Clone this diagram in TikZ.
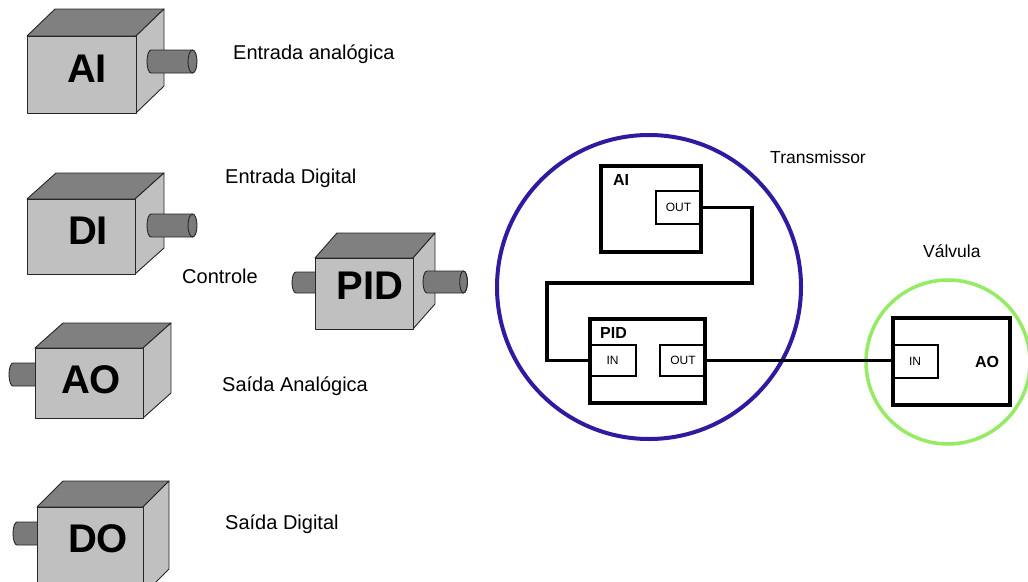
\documentclass[tikz,border=0pt]{standalone}
\usepackage{fontspec}
\setmainfont{Liberation Sans}

\definecolor{cubelight}{HTML}{C0C0C0}
\definecolor{cubedark}{HTML}{808080}
\definecolor{shaftgray}{HTML}{7A7A7A}
\definecolor{ringblue}{RGB}{45,28,160}
\definecolor{ringgreen}{RGB}{150,235,100}

% cube: front face (x1,y1)-(x2,y2), depth offset (dx,dy)
\newcommand\devcube[6]{%
  \filldraw[cubeedge, fill=cubedark] (#1,#2) -- (#1+#5,#2-#6) -- (#3+#5,#2-#6) -- (#3,#2) -- cycle;
  \filldraw[cubeedge, fill=cubelight] (#3,#2) -- (#3+#5,#2-#6) -- (#3+#5,#4-#6) -- (#3,#4) -- cycle;
  \filldraw[cubeedge, fill=cubelight] (#1,#2) rectangle (#3,#4);
}
% cylindrical shaft body from xl to xr, centre line yc, radius r, end ellipse half-width rx
\newcommand\devshaft[5]{%
  \filldraw[cubeedge, fill=shaftgray] (#1,#3+#4) arc[start angle=90,end angle=270,x radius=#5,y radius=#4]
    -- (#2,#3-#4) arc[start angle=-90,end angle=90,x radius=#5,y radius=#4] -- cycle;
}
% visible end face of a shaft
\newcommand\devcap[4]{%
  \filldraw[cubeedge, fill=shaftgray] (#1,#2) ellipse[x radius=#4,y radius=#3];
}

\begin{document}
\begin{tikzpicture}[x=1pt,y=-1pt,
  cubeedge/.style={draw=black!85, line width=0.9pt, line join=round},
  cubelbl/.style={font=\fontsize{40}{42}\selectfont\bfseries, inner sep=0pt},
  caption/.style={font=\fontsize{20}{24}\selectfont, anchor=base west, inner sep=0pt},
  smallcaption/.style={font=\fontsize{17.5}{20}\selectfont, anchor=base west, inner sep=0pt},
  blk/.style={draw, line width=3.5pt, inner sep=0pt},
  blkname/.style={font=\fontsize{16}{18}\selectfont\bfseries, inner sep=0pt},
  port/.style={draw, line width=2.2pt, inner sep=0pt, font=\fontsize{12}{13}\selectfont},
  wire/.style={line width=3.5pt, line join=miter},
  ring/.style={line width=4pt}
]
\useasboundingbox (0,0) rectangle (1028,581);
\clip (0,0) rectangle (1028,581);
\fill[white] (0,0) rectangle (1028,581);

% ---------- function block icons ----------
% AI
\devcube{27}{36}{136}{113}{28}{27}
\devshaft{151}{192.5}{61.5}{11.5}{4}
\devcap{192.5}{61.5}{11.5}{4.5}
\node[cubelbl] (aiicon) at (87,69) {AI};
\node[caption] (lai) at (233,59) {Entrada analógica};

% DI
\devcube{27}{199}{135}{274}{29}{26}
\devshaft{151}{192.5}{225.5}{11.5}{4}
\devcap{192.5}{225.5}{11.5}{4.5}
\node[cubelbl] (diicon) at (88,231) {DI};
\node[caption] (ldi) at (225,183) {Entrada Digital};

% PID
\devshaft{296}{330}{282.5}{10.5}{4}
\devcube{315}{258}{413}{329}{22}{25}
\devshaft{427}{463.5}{282}{11}{4}
\devcap{463.5}{282}{11}{3.8}
\node[cubelbl] (pidicon) at (370,286) {PID};
\node[caption] (lctl) at (182,283) {Controle};

% AO
\devshaft{13}{50}{374.5}{11.5}{4}
\devcube{35}{348}{143}{418}{28}{25}
\node[cubelbl] (aoicon) at (91,380) {AO};
\node[caption] (lao) at (222,391) {Saída Analógica};

% DO
\devshaft{17}{50}{533.5}{11.5}{4}
\devcube{37}{507}{143}{595}{26}{26}
\node[cubelbl] (doicon) at (98,539) {DO};
\node[caption] (ldo) at (225,529) {Saída Digital};

% ---------- devices and their blocks ----------
\draw[ring, draw=ringblue] (649,287) circle[radius=152];
\draw[ring, draw=ringgreen, line width=3.5pt] (948,362) circle[radius=82];
\node[smallcaption] (ltx) at (770,163) {Transmissor};
\node[smallcaption] (lvv) at (923,257) {Válvula};

% AI block
\node[blk, minimum width=100, minimum height=86] (aiblk) at (651,209) {};
\node[blkname] (ainame) at (621,179.5) {AI};
\node[port, minimum width=45, minimum height=33] (aiout) at (678.5,207.5) {OUT};

% PID block
\node[blk, minimum width=115, minimum height=84] (pidblk) at (647.5,361) {};
\node[blkname] (pidname) at (613.5,332.5) {PID};
\node[port, minimum width=47, minimum height=31] (pidin) at (612.5,360.5) {IN};
\node[port, minimum width=46, minimum height=31] (pidout) at (683,360.5) {OUT};

% AO block
\node[blk, minimum width=117, minimum height=87] (aoblk) at (951.5,361.5) {};
\node[port, minimum width=46, minimum height=33] (aoin) at (915,361.5) {IN};
\node[blkname] (aoname) at (987,361.5) {AO};

% links
\coordinate (bendA) at (752,283);
\coordinate (bendB) at (547,283);
\draw[wire] (aiout.east) -| (bendA) -- (bendB) |- (pidin.west);
\draw[wire, line width=3pt] (pidout.east) -- (pidout.east -| aoblk.west);
\end{tikzpicture}
\end{document}
